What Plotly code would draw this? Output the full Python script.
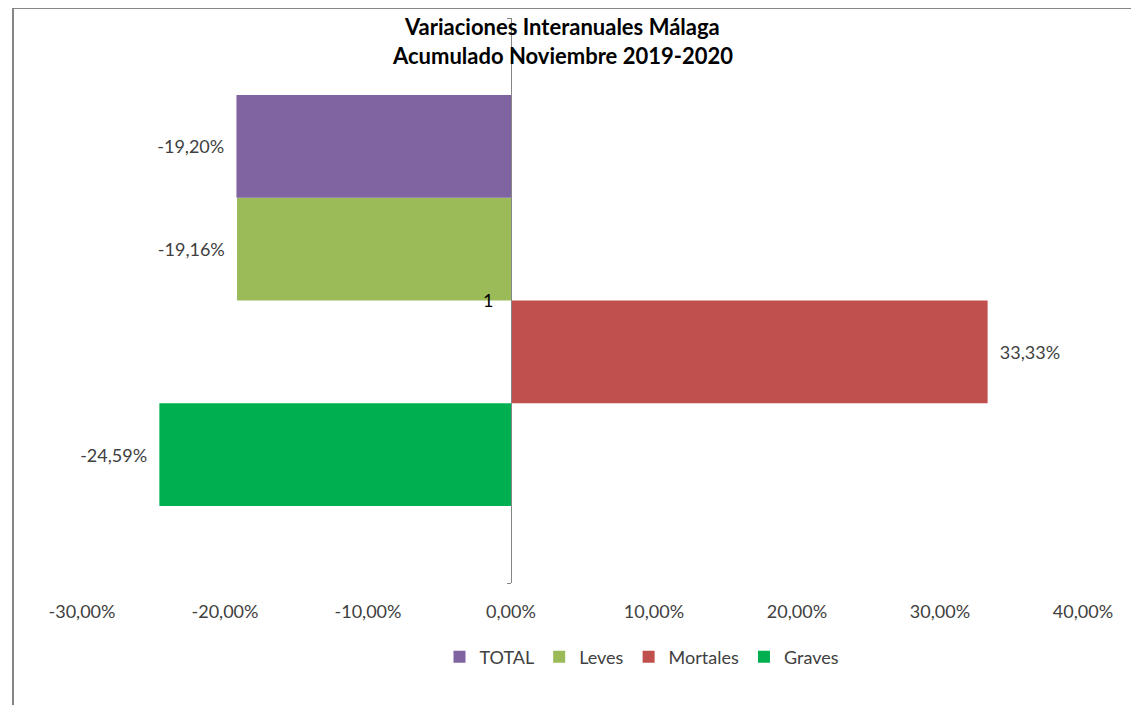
import plotly.graph_objects as go

category = ["1"]
series_names = ["Graves", "Mortales", "Leves", "TOTAL"]
series_values = [-0.2459, 0.3333, -0.1916, -0.1920]
series_labels = ["-24,59%", "33,33%", "-19,16%", "-19,20%"]
series_colors = ["#00B050", "#C0504D", "#9BBB59", "#8064A2"]
tick_values = [-0.3, -0.2, -0.1, 0.0, 0.1, 0.2, 0.3, 0.4]
tick_labels = ["-30,00%", "-20,00%", "-10,00%", "0,00%", "10,00%", "20,00%", "30,00%", "40,00%"]
title_lines = ["Variaciones Interanuales Málaga", "Acumulado Noviembre 2019-2020"]

FONT = "Lato, 'Open Sans', sans-serif"
OFF = 8  # page body margin
W, H = 1139 - OFF, 705 - OFF
L, R, T, B = 82 - OFF, 1083 - OFF, 18 - OFF, 583 - OFF

fig = go.Figure()
for name, val, lab, col in zip(series_names, series_values, series_labels, series_colors):
    txt = ("\u00a0\u00a0" + lab) if val >= 0 else (lab + "\u00a0\u00a0")
    fig.add_trace(go.Bar(
        y=category, x=[val], name=name, orientation="h",
        marker=dict(color=col, line=dict(width=0)),
        text=[txt], textposition="outside", cliponaxis=False,
        textfont=dict(family=FONT, size=18, color="#404040"),
        hoverinfo="skip",
    ))

def px_x(p):
    return (p - OFF - L) / (R - L)

def px_y(p):
    return (B - (p - OFF)) / (B - T)

zero_pos = (0 - tick_values[0]) / (tick_values[-1] - tick_values[0])

fig.update_layout(
    width=W, height=H, autosize=False,
    margin=dict(l=L, r=W - R, t=T, b=H - B),
    paper_bgcolor="white", plot_bgcolor="white",
    barmode="group", bargap=0.273, bargroupgap=0,
    showlegend=True,
    legend=dict(orientation="h", traceorder="reversed",
                x=px_x(642), xanchor="center", y=px_y(657), yanchor="middle",
                font=dict(family=FONT, size=18, color="#404040")),
    xaxis=dict(range=[tick_values[0], tick_values[-1]], tickvals=tick_values,
               ticktext=tick_labels, showgrid=False, zeroline=False, showline=False,
               ticks="outside", ticklen=12, tickcolor="rgba(0,0,0,0)",
               tickfont=dict(family=FONT, size=18, color="#404040")),
    yaxis=dict(type="category", anchor="free", position=zero_pos,
               showline=True, linecolor="#868686", linewidth=1,
               ticks="outside", ticklen=4, tickcolor="#868686", tickson="boundaries",
               ticklabelstandoff=14,
               showgrid=False, zeroline=False,
               tickfont=dict(family=FONT, size=18, color="#000000")),
)

for line, yp in zip(title_lines, [27, 55]):
    fig.add_annotation(text="<b>" + line + "</b>", xref="paper", yref="paper",
                       x=px_x(562), y=px_y(yp), xanchor="center", yanchor="middle",
                       showarrow=False, font=dict(family=FONT, size=22, color="#000000"))

# chart-area border (left and top edges visible)
fig.add_shape(type="line", xref="paper", yref="paper",
              x0=px_x(13), x1=px_x(13), y0=px_y(8), y1=px_y(720),
              line=dict(color="#868686", width=2))
fig.add_shape(type="line", xref="paper", yref="paper",
              x0=px_x(13), x1=px_x(1150), y0=px_y(8), y1=px_y(8),
              line=dict(color="#868686", width=2))

fig.write_html("out.html")
